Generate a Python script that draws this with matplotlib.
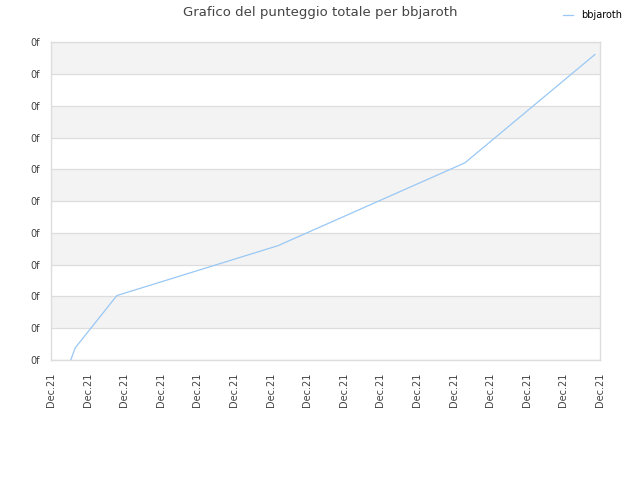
import matplotlib
matplotlib.use('Agg')
import matplotlib.pyplot as plt
import numpy as np

# data (x in tick steps, y in grid steps)
player = 'bbjaroth'
x_pos = [0.54, 0.66, 1.80, 6.20, 11.31, 14.86]
score = [0.0, 0.38, 2.03, 3.60, 6.21, 9.62]
x_labels = ['Dec.21'] * 16
y_labels = ['0f'] * 11

line_color = '#99c8f5'
grid_color = '#dddddd'
band_color = '#f3f3f3'
text_color = '#444444'

fig = plt.figure(figsize=(6.4, 4.8), dpi=100)
ax = fig.add_axes([0.0797, 0.25, 0.8578, 0.6615])

# alternating bands
for i in range(len(y_labels) - 1):
    if i % 2 == 1:
        ax.axhspan(i, i + 1, color=band_color, zorder=0, lw=0)
for i in range(len(y_labels)):
    ax.axhline(i, color=grid_color, lw=0.9, zorder=1)

ax.plot(x_pos, score, color=line_color, lw=0.9, label=player, zorder=3)

ax.set_xlim(0, len(x_labels) - 1)
ax.set_ylim(0, len(y_labels) - 1)
ax.set_xticks(np.arange(len(x_labels)))
ax.set_xticklabels(x_labels, rotation=90)
ax.set_yticks(np.arange(len(y_labels)))
ax.set_yticklabels(y_labels)
ax.tick_params(axis='y', length=0, labelsize=7, colors=text_color, pad=8)
ax.tick_params(axis='x', length=0, labelsize=7, colors=text_color, pad=9)

for side in ['left', 'bottom', 'top', 'right']:
    ax.spines[side].set_color(grid_color)
    ax.spines[side].set_linewidth(1.0)

fig.text(0.5, 0.987, 'Grafico del punteggio totale per bbjaroth', ha='center', va='top',
         fontsize=9.5, color=text_color)
fig.legend(loc='upper right', bbox_to_anchor=(0.985, 0.997), frameon=False, fontsize=7,
           handlelength=1.0, labelcolor='black')

fig.savefig('out.png', dpi=100)
